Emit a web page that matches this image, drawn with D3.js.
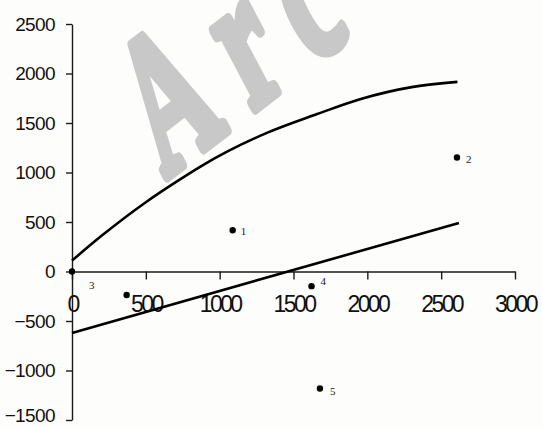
<!DOCTYPE html>
<html>
<head>
<meta charset="utf-8">
<script src="https://cdn.jsdelivr.net/npm/d3@7"></script>
<style>
  html, body { margin: 0; padding: 0; background: #fdfdfb; }
  svg { display: block; }
  .axis path, .axis line { stroke: #1a1a1a; stroke-width: 1.4px; }
  .axis text { font-family: "Liberation Sans", Arial, sans-serif; fill: #111; }
</style>
</head>
<body>
<svg id="chart" width="542" height="427"></svg>
<script>
// curve (upper series)
const curveX = [0, 200, 500, 700, 870, 1050, 1320, 1660, 1950, 2310, 2610];
const curveY = [110, 360, 700, 900, 1060, 1210, 1400, 1590, 1740, 1865, 1915];

// straight line
const lineX = [0, 2620];
const lineY = [-620, 490];

// numbered points
const pointX = [1088, 2607, 0, 1622, 1679, 370];
const pointY = [417, 1151, 0, -148, -1182, -238];
const pointLabels = ['1', '2', '3', '4', '5', ''];

// ticks
const xTicks = [0, 500, 1000, 1500, 2000, 2500, 3000];
const yTicks = [-1500, -1000, -500, 0, 500, 1000, 1500, 2000, 2500];

const svg = d3.select('#chart');

const x = d3.scaleLinear().domain([0, 3000]).range([72, 515]);
const y = d3.scaleLinear().domain([-1500, 2500]).range([420, 24]);

// watermark (skewed, as scanned)
svg.append('text')
  .attr('transform', 'matrix(0.88,-0.68,0.9,1.7,165,178)')
  .attr('font-family', '"Liberation Serif", "Times New Roman", serif')
  .attr('font-weight', 'bold')
  .attr('font-size', 100)
  .attr('letter-spacing', '26px')
  .attr('fill', '#c8c8c8')
  .attr('stroke', '#c8c8c8')
  .attr('stroke-width', 6)
  .attr('stroke-linejoin', 'round')
  .text('Arc');

// y axis
const yAxis = svg.append('g')
  .attr('class', 'axis')
  .attr('transform', `translate(${x(0)},0)`)
  .call(d3.axisLeft(y).tickValues(yTicks).tickFormat(d3.format('d'))
    .tickSize(6).tickSizeOuter(0).tickPadding(11));
yAxis.selectAll('text')
  .attr('font-size', 19)
  .attr('letter-spacing', '-0.6px')
  .attr('dy', d => d === -1500 ? '0.1em' : '0.32em');

// x axis
const xAxis = svg.append('g')
  .attr('class', 'axis')
  .attr('transform', `translate(0,${y(0)})`)
  .call(d3.axisBottom(x).tickValues(xTicks).tickFormat(d3.format('d'))
    .tickSize(8).tickSizeOuter(0).tickPadding(16));
xAxis.selectAll('text')
  .attr('font-size', 23)
  .attr('letter-spacing', '-2.6px');

// curve
const curveData = curveX.map((v, i) => [v, curveY[i]]);
svg.append('path')
  .datum(curveData)
  .attr('fill', 'none')
  .attr('stroke', '#000')
  .attr('stroke-width', 2.6)
  .attr('d', d3.line().x(d => x(d[0])).y(d => y(d[1])).curve(d3.curveMonotoneX));

// straight line
const lineData = lineX.map((v, i) => [v, lineY[i]]);
svg.append('path')
  .datum(lineData)
  .attr('fill', 'none')
  .attr('stroke', '#000')
  .attr('stroke-width', 2.6)
  .attr('d', d3.line().x(d => x(d[0])).y(d => y(d[1])));

// points
const points = pointX.map((v, i) => ({ x: v, y: pointY[i], label: pointLabels[i] }));
svg.append('g')
  .selectAll('circle')
  .data(points)
  .enter()
  .append('circle')
  .attr('cx', d => x(d.x))
  .attr('cy', d => y(d.y))
  .attr('r', 3.2)
  .attr('fill', '#000');

// label offsets per point
const labelDx = [8, 9, 17, 9, 10, 0];
const labelDy = [5, 5, 17, -1, 6, 0];
svg.append('g')
  .selectAll('text')
  .data(points)
  .enter()
  .append('text')
  .attr('x', (d, i) => x(d.x) + labelDx[i])
  .attr('y', (d, i) => y(d.y) + labelDy[i])
  .attr('font-family', '"Liberation Serif", "Times New Roman", serif')
  .attr('font-size', 11)
  .attr('fill', '#222')
  .text(d => d.label);
</script>
</body>
</html>
